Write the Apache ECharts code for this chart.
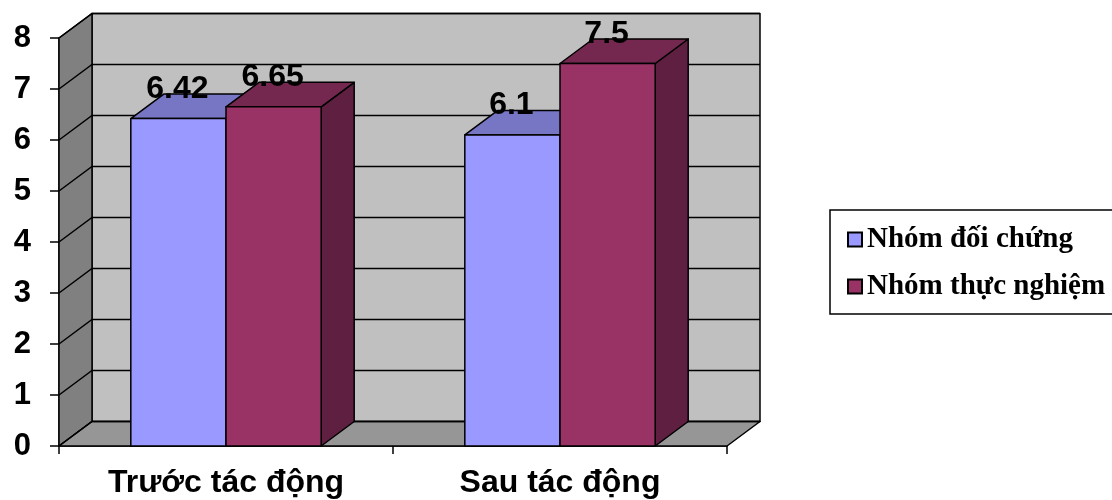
<!DOCTYPE html>
<html>
<head>
<meta charset="utf-8">
<script src="https://cdn.jsdelivr.net/npm/echarts@6/dist/echarts.min.js"></script>
<style>
  html, body { margin: 0; padding: 0; background: #ffffff; }
  #chart { width: 1112px; height: 500px; }
</style>
</head>
<body>
<div id="chart"></div>
<script>
// Mean scores of the two groups before and after the intervention
const categories = ['Trước tác động', 'Sau tác động'];
const controlGroup = [6.42, 6.1];
const experimentalGroup = [6.65, 7.5];
const seriesNames = ['Nhóm đối chứng', 'Nhóm thực nghiệm'];
const yTicks = [0, 1, 2, 3, 4, 5, 6, 7, 8];

// Pseudo-3D depth offset (pixels) and bar width as a share of a category band
const DX = 33, DY = -24.5;
const BAR_FRAC = 0.285;

const palette = [
  { front: '#9999ff', top: '#7676c4', side: '#6a6ab0' },
  { front: '#993366', top: '#75284f', side: '#5f1f40' }
];

const edge = { stroke: '#000', lineWidth: 1.5, lineJoin: 'round' };

// Back wall, side wall, floor and gridlines of the 3D box
function renderWalls(params, api) {
  const cs = params.coordSys;
  const x0 = cs.x, x1 = cs.x + cs.width;
  const yTop = cs.y, y0 = cs.y + cs.height;
  const children = [
    { type: 'rect', shape: { x: x0 + DX, y: yTop + DY, width: x1 - x0, height: y0 - yTop },
      style: Object.assign({ fill: '#c0c0c0' }, edge) },
    { type: 'polygon', shape: { points: [[x0, yTop], [x0 + DX, yTop + DY], [x0 + DX, y0 + DY], [x0, y0]] },
      style: Object.assign({ fill: '#808080' }, edge) },
    { type: 'polygon', shape: { points: [[x0, y0], [x0 + DX, y0 + DY], [x1 + DX, y0 + DY], [x1, y0]] },
      style: Object.assign({ fill: '#969696' }, edge) }
  ];
  yTicks.forEach(function (v) {
    const y = api.coord([0, v])[1];
    children.push({ type: 'polyline', shape: { points: [[x0, y], [x0 + DX, y + DY], [x1 + DX, y + DY]] },
      style: { stroke: '#000', lineWidth: 1.5, fill: null } });
  });
  return { type: 'group', children: children };
}

function barRenderer(idx) {
  return function (params, api) {
    const cat = api.value(0), val = api.value(1);
    const base = api.coord([cat, 0]);
    const top = api.coord([cat, val]);
    const bw = api.size([1, 0])[0] * BAR_FRAC;
    const x0 = idx === 0 ? base[0] - bw : base[0];
    const x1 = x0 + bw;
    const yb = base[1], yt = top[1];
    const c = palette[idx];
    return {
      type: 'group',
      children: [
        { type: 'polygon', shape: { points: [[x1, yt], [x1 + DX, yt + DY], [x1 + DX, yb + DY], [x1, yb]] },
          style: Object.assign({ fill: c.side }, edge) },
        { type: 'polygon', shape: { points: [[x0, yt], [x0 + DX, yt + DY], [x1 + DX, yt + DY], [x1, yt]] },
          style: Object.assign({ fill: c.top }, edge) },
        { type: 'rect', shape: { x: x0, y: yt, width: bw, height: yb - yt },
          style: Object.assign({ fill: c.front }, edge) },
        { type: 'text', x: (x0 + x1) / 2 - 1, y: yt + DY - 5, z2: 10,
          style: { text: String(val), fill: '#000', align: 'center', verticalAlign: 'middle',
                   font: 'bold 32px "Liberation Sans", Arial, sans-serif' } }
      ]
    };
  };
}

const chart = echarts.init(document.getElementById('chart'), null, { renderer: 'canvas' });

chart.setOption({
  animation: false,
  backgroundColor: '#ffffff',
  grid: { left: 59, right: 385, top: 38, bottom: 54 },
  legend: {
    data: seriesNames,
    orient: 'vertical',
    left: 830,
    top: 210,
    backgroundColor: '#ffffff',
    borderColor: '#000',
    borderWidth: 1.5,
    borderRadius: 0,
    padding: [15, 20, 13, 17],
    itemGap: 18,
    itemWidth: 14,
    itemHeight: 14,
    icon: 'rect',
    itemStyle: { borderColor: '#000', borderWidth: 2 },
    textStyle: { fontFamily: '"Liberation Serif", "Times New Roman", serif', fontWeight: 'bold',
                 fontSize: 29, color: '#000' }
  },
  xAxis: {
    type: 'category',
    data: categories,
    axisLine: { show: true, lineStyle: { color: '#000', width: 1.5 } },
    axisTick: { show: true, length: 8, lineStyle: { color: '#000', width: 1.5 } },
    axisLabel: { color: '#000', fontSize: 32, fontWeight: 'bold', margin: 21,
                 fontFamily: '"Liberation Sans", Arial, sans-serif' },
    splitLine: { show: false }
  },
  yAxis: {
    type: 'value',
    min: 0,
    max: 8,
    interval: 1,
    axisLine: { show: true, lineStyle: { color: '#000', width: 1.5 } },
    axisTick: { show: true, length: 9, lineStyle: { color: '#000', width: 1.5 } },
    axisLabel: { color: '#000', fontSize: 31, fontWeight: 'bold', margin: 28,
                 fontFamily: '"Liberation Sans", Arial, sans-serif' },
    splitLine: { show: false }
  },
  series: [
    { name: 'walls', type: 'custom', renderItem: renderWalls, data: [[0, 0]], silent: true, z: 1 },
    { name: seriesNames[0], type: 'custom', renderItem: barRenderer(0), z: 2,
      itemStyle: { color: palette[0].front },
      data: controlGroup.map(function (v, i) { return [i, v]; }) },
    { name: seriesNames[1], type: 'custom', renderItem: barRenderer(1), z: 3,
      itemStyle: { color: palette[1].front },
      data: experimentalGroup.map(function (v, i) { return [i, v]; }) }
  ]
});
</script>
</body>
</html>
